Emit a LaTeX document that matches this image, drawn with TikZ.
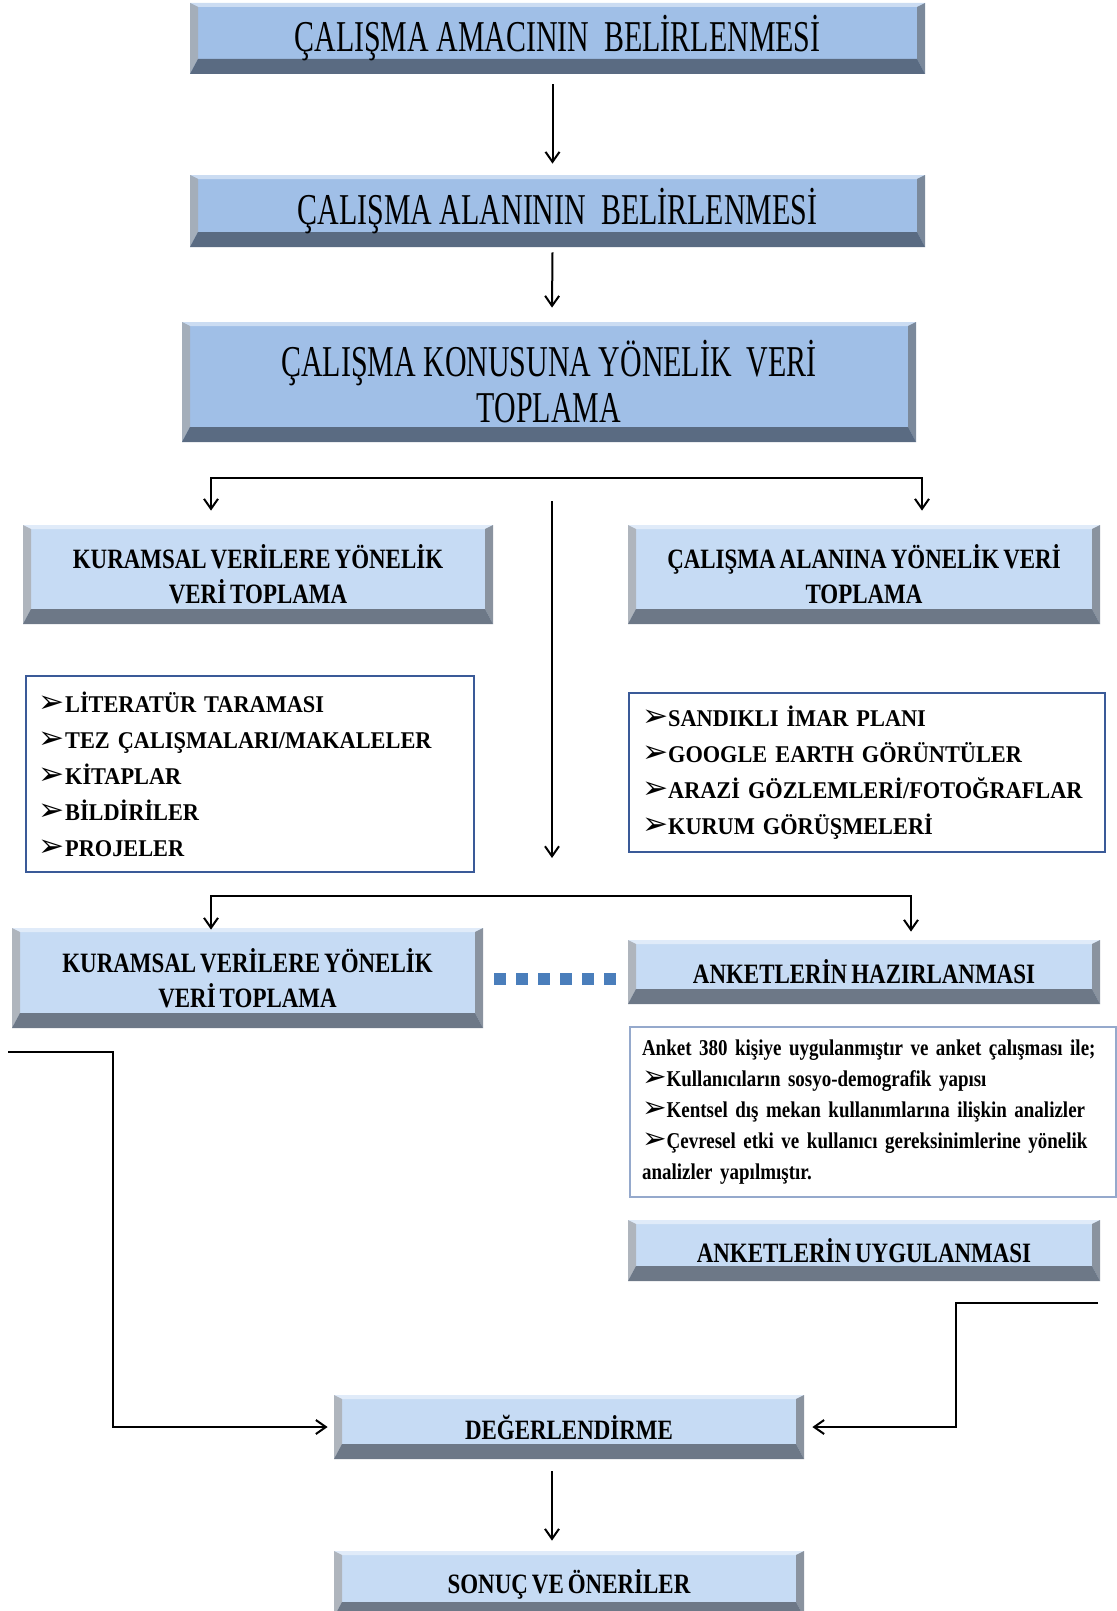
\documentclass[tikz,border=0pt]{standalone}
\usepackage{fontspec}
\setmainfont{Liberation Serif}
\newfontfamily\wideface[FakeStretch=0.68]{Liberation Serif}
\newfontfamily\boxface[FakeStretch=0.82,WordSpace=0.7]{Liberation Serif}
\newfontfamily\listface[FakeStretch=0.93,WordSpace=0.6]{Liberation Serif}
\newfontfamily\noteface[FakeStretch=0.84,WordSpace=0.55]{Liberation Serif}
\newfontfamily\dingface{DejaVu Sans}
\usepackage{tikz}
\usetikzlibrary{arrows.meta, calc, positioning}

\definecolor{facedark}{HTML}{A0BFE7}
\definecolor{banddark}{HTML}{5A6B82}
\definecolor{facelight}{HTML}{C6DBF4}
\definecolor{bandlight}{HTML}{6D7887}
\definecolor{listblue}{HTML}{3A5A98}
\definecolor{noteblue}{HTML}{95A9CC}
\definecolor{dashblue}{HTML}{4A7EBB}

\newcommand{\lstbullet}{\scalebox{1.3}{\dingface\char"27A2}}

\tikzset{
  bevelbox/.style 2 args={fill=#1, inner sep=0pt, path picture={
      \path (path picture bounding box.south west) coordinate (bsw)
            (path picture bounding box.south east) coordinate (bse)
            (path picture bounding box.north west) coordinate (bnw)
            (path picture bounding box.north east) coordinate (bne);
      \fill[#1!55!white] (bnw) -- (bne) -- ($(bne)+(-8,4)$) -- ($(bnw)+(8,4)$) -- cycle;
      \fill[#2!55!white] (bnw) -- ($(bnw)+(8,4)$) -- ($(bsw)+(8,-15)$) -- (bsw) -- cycle;
      \fill[#2!80!white] (bne) -- ($(bne)+(-8,4)$) -- ($(bse)+(-8,-15)$) -- (bse) -- cycle;
      \fill[#2] (bsw) -- ($(bsw)+(8,-15)$) -- ($(bse)+(-8,-15)$) -- (bse) -- cycle;
  }},
  topbox/.style={bevelbox={facedark}{banddark}, align=center,
    font=\wideface\fontsize{22}{23}\selectfont},
  subbox/.style={bevelbox={facelight}{bandlight}, align=center,
    font=\boxface\bfseries\fontsize{14}{17.5}\selectfont},
  listbox/.style={draw=listblue, line width=1pt, align=left, inner xsep=6.5pt, inner ysep=0pt,
    font=\listface\bfseries\fontsize{12}{18}\selectfont},
  notebox/.style={draw=noteblue, line width=0.6pt, align=left, inner xsep=6pt, inner ysep=0pt,
    font=\noteface\bfseries\fontsize{11.3}{15.5}\selectfont},
  arr/.style={-{Straight Barb[length=5pt,width=7pt]}, line width=1pt},
  dblarr/.style={{Straight Barb[length=5pt,width=7pt]}-{Straight Barb[length=5pt,width=7pt]}, line width=1pt},
}

\begin{document}
\begin{tikzpicture}[x=0.5pt,y=-0.5pt]
  \useasboundingbox (0,0) rectangle (1117,1611);

  % main column
  \node[topbox,minimum width=367.5pt,minimum height=35.5pt] (amac) at (557.5,38.5) {ÇALIŞMA AMACININ\ \ BELİRLENMESİ};
  \node[topbox,minimum width=367.5pt,minimum height=36pt] (alan) at (557.5,211) {ÇALIŞMA ALANININ\ \ BELİRLENMESİ};
  \node[topbox,minimum width=367pt,minimum height=60pt] (konu) at (549,382) {ÇALIŞMA KONUSUNA YÖNELİK\ \ VERİ\\TOPLAMA};

  \draw[arr] ($(amac.south)+(-5,10)$) -- ($(alan.north)+(-5,-11)$);
  \draw[arr] ($(alan.south)+(-5,5)$) -- ($(konu.north)+(3,-14)$);

  % two branches
  \node[subbox,minimum width=235pt,minimum height=49.5pt] (kuram1) at (258,574.5) {KURAMSAL VERİLERE YÖNELİK\\VERİ TOPLAMA};
  \node[subbox,minimum width=236pt,minimum height=49.5pt] (alanveri) at (864,574.5) {ÇALIŞMA ALANINA YÖNELİK VERİ\\TOPLAMA};

  \coordinate (split1) at (552,478);
  \draw[dblarr] ($(kuram1.north)+(-47,-14)$) |- (split1) -| ($(alanveri.north)+(58,-14)$);

  \coordinate (midtop) at (552,501);
  \coordinate (midend) at (552,858);
  \draw[arr] (midtop) -- (midend);

  \node[listbox,text width=211pt,minimum height=98pt] (litlist) at (250,774)
    {\lstbullet LİTERATÜR TARAMASI\\\lstbullet TEZ ÇALIŞMALARI/MAKALELER\\\lstbullet KİTAPLAR\\\lstbullet BİLDİRİLER\\\lstbullet PROJELER};
  \node[listbox,text width=225pt,minimum height=79.5pt] (arazilist) at (867,772.5)
    {\lstbullet SANDIKLI İMAR PLANI\\\lstbullet GOOGLE EARTH GÖRÜNTÜLER\\\lstbullet ARAZİ GÖZLEMLERİ/FOTOĞRAFLAR\\\lstbullet KURUM GÖRÜŞMELERİ};

  % survey part
  \node[subbox,minimum width=235.5pt,minimum height=50pt] (kuram2) at (247.5,978) {KURAMSAL VERİLERE YÖNELİK\\VERİ TOPLAMA};
  \node[subbox,minimum width=236pt,minimum height=32pt] (hazir) at (864,972) {ANKETLERİN HAZIRLANMASI};

  \coordinate (split2) at (552,896);
  \draw[dblarr] ($(kuram2.north)+(-36.5,2)$) |- (split2) -| ($(hazir.north)+(47,-8)$);

  \draw[dashblue,line width=6pt,dash pattern=on 6pt off 5pt] ($(kuram2.east)+(11,1)$) -- ($(kuram2.east -| hazir.west)+(-8,1)$);

  \node[notebox,text width=231pt,minimum height=85pt] (anket) at (873,1112)
    {\mbox{Anket 380 kişiye uygulanmıştır ve anket çalışması ile;}\\
     \mbox{\lstbullet Kullanıcıların sosyo-demografik yapısı}\\
     \mbox{\lstbullet Kentsel dış mekan kullanımlarına ilişkin analizler}\\
     \mbox{\lstbullet Çevresel etki ve kullanıcı gereksinimlerine yönelik}\\
     \mbox{analizler yapılmıştır.}};

  \node[subbox,minimum width=236pt,minimum height=30.5pt] (uygula) at (864,1250.5) {ANKETLERİN UYGULANMASI};

  % result
  \node[subbox,minimum width=235pt,minimum height=32pt] (deger) at (569,1427) {DEĞERLENDİRME};
  \node[subbox,minimum width=235pt,minimum height=33pt] (sonuc) at (569,1584) {SONUÇ VE ÖNERİLER};

  \coordinate (leftfree) at (8,1052);
  \coordinate (rightfree) at (1098,1303);
  \draw[arr,shorten >=3pt] (leftfree) -| ($(deger.west)+(-221,0)$) -- (deger.west);
  \draw[arr,shorten >=4pt] (rightfree) -| ($(deger.east)+(152,0)$) -- (deger.east);
  \draw[arr] ($(deger.south)+(-17,12)$) -- ($(sonuc.north)+(-17,-10)$);
\end{tikzpicture}
\end{document}
